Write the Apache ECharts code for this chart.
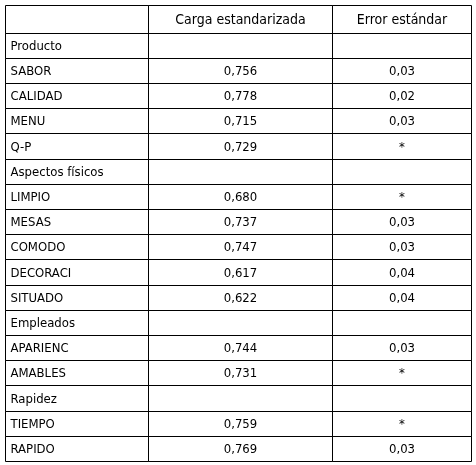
<!DOCTYPE html>
<html>
<head>
<meta charset="utf-8">
<script src="https://cdn.jsdelivr.net/npm/echarts@6/dist/echarts.min.js"></script>
</head>
<body style="margin:0;background:#fff">
<div id="main" style="width:476px;height:465px;"></div>
<script>
var headers = ['', 'Carga estandarizada', 'Error estándar'];
var labels = ['Producto', 'SABOR', 'CALIDAD', 'MENU', 'Q-P', 'Aspectos físicos', 'LIMPIO', 'MESAS', 'COMODO', 'DECORACI', 'SITUADO', 'Empleados', 'APARIENC', 'AMABLES', 'Rapidez', 'TIEMPO', 'RAPIDO'];
var loads = ['', '0,756', '0,778', '0,715', '0,729', '', '0,680', '0,737', '0,747', '0,617', '0,622', '', '0,744', '0,731', '', '0,759', '0,769'];
var errors = ['', '0,03', '0,02', '0,03', '*', '', '*', '0,03', '0,03', '0,04', '0,04', '', '0,03', '*', '', '*', '0,03'];

var colX = [5, 148, 332, 471];
var top0 = 5, headH = 27.5, rowH = 25.2;
var font = '13px "DejaVu Sans Condensed", "DejaVu Sans", sans-serif';
var headFont = '14px "DejaVu Sans Condensed", "DejaVu Sans", sans-serif';
var edges = [top0, top0 + headH];
labels.forEach(function (l, i) { edges.push(top0 + headH + (i + 1) * rowH); });
edges = edges.map(function (v) { return Math.round(v) + 0.5; });
var els = [];
function cell(c, r, txt, f) {
  var x0 = colX[c] + 0.5, x1 = colX[c + 1] + 0.5, y0 = edges[r], y1 = edges[r + 1];
  els.push({type: 'rect', shape: {x: x0, y: y0, width: x1 - x0, height: y1 - y0},
    style: {fill: 'none', stroke: '#000', lineWidth: 1}});
  if (txt) els.push({type: 'text', x: c === 0 ? x0 + 5 : (x0 + x1) / 2, y: (y0 + y1) / 2 + 1,
    style: {text: txt, font: f || font, fill: '#000', align: c === 0 ? 'left' : 'center', verticalAlign: 'middle'}});
}
for (var c = 0; c < 3; c++) cell(c, 0, headers[c], headFont);
labels.forEach(function (l, i) {
  cell(0, i + 1, l);
  cell(1, i + 1, loads[i]);
  cell(2, i + 1, errors[i]);
});
var chart = echarts.init(document.getElementById('main'));
chart.setOption({animation: false, graphic: {elements: els}});
</script>
</body>
</html>
